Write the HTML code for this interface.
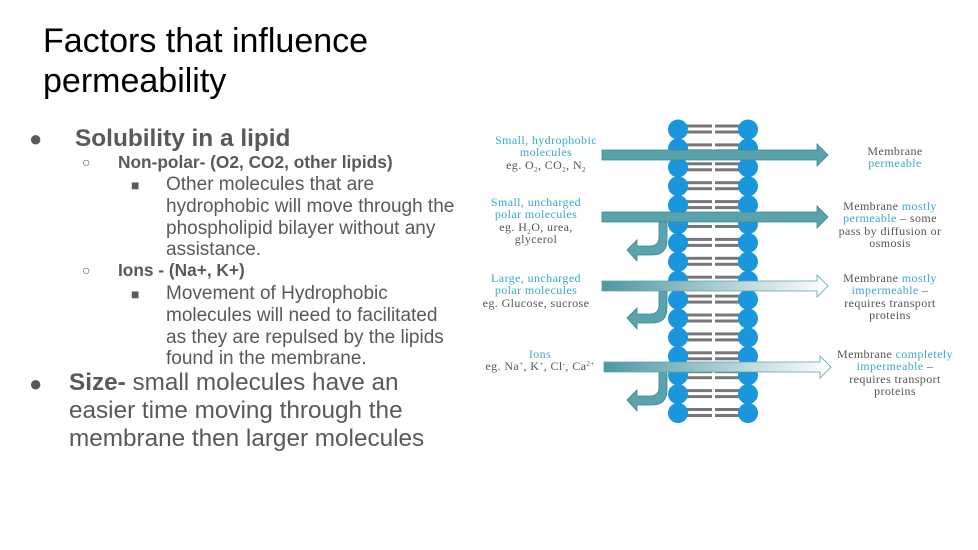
<!DOCTYPE html>
<html><head><meta charset="utf-8"><style>
body{margin:0;width:978px;height:550px;background:#fff;position:relative;overflow:hidden;font-family:"Liberation Sans",sans-serif;color:#595959}
.t{position:absolute;white-space:nowrap;line-height:1}
.d{position:absolute;text-align:center;font-family:'Liberation Serif',serif;font-size:12px;line-height:12.3px;letter-spacing:0.4px;color:#555;white-space:nowrap}
.b{color:#3aa8cc}
.s{font-size:7px;position:relative;top:3px;line-height:0}
.u{font-size:7px;position:relative;top:-4px;line-height:0}
</style></head><body>
<div class="t" style="left:43px;top:24px;font-size:34px;color:#000">Factors that influence</div>
<div class="t" style="left:43px;top:64px;font-size:34px;color:#000">permeability</div>

<div class="t" style="left:29px;top:128px;font-size:22px">●</div>
<div class="t" style="left:75px;top:127px;font-size:24.4px;font-weight:bold">Solubility in a lipid</div>
<div class="t" style="left:82px;top:155px;font-size:14px">○</div>
<div class="t" style="left:118px;top:154px;font-size:17.3px;font-weight:bold">Non-polar- (O2, CO2, other lipids)</div>
<div class="t" style="left:131px;top:178px;font-size:14px">■</div>
<div class="t" style="left:166px;top:175px;font-size:19px">Other molecules that are</div>
<div class="t" style="left:166px;top:197px;font-size:19px">hydrophobic will move through the</div>
<div class="t" style="left:166px;top:219px;font-size:19px">phospholipid bilayer without any</div>
<div class="t" style="left:166px;top:240px;font-size:19px">assistance.</div>
<div class="t" style="left:82px;top:263px;font-size:14px">○</div>
<div class="t" style="left:118px;top:262px;font-size:17.3px;font-weight:bold">Ions - (Na+, K+)</div>
<div class="t" style="left:131px;top:287px;font-size:14px">■</div>
<div class="t" style="left:166px;top:284px;font-size:19px">Movement of Hydrophobic</div>
<div class="t" style="left:166px;top:306px;font-size:19px">molecules will need to facilitated</div>
<div class="t" style="left:166px;top:328px;font-size:19px">as they are repulsed by the lipids</div>
<div class="t" style="left:166px;top:349px;font-size:19px">found in the membrane.</div>
<div class="t" style="left:29px;top:373px;font-size:22px">●</div>
<div class="t" style="left:69px;top:371px;font-size:24.3px"><b>Size-</b> small molecules have an</div>
<div class="t" style="left:69px;top:399px;font-size:24.3px">easier time moving through the</div>
<div class="t" style="left:69px;top:427px;font-size:24.3px">membrane then larger molecules</div>

<svg style="position:absolute;left:0;top:0" width="978" height="550">
<defs>
<linearGradient id="g" x1="0" x2="1"><stop offset="0" stop-color="#4f97a1"/><stop offset="1" stop-color="#ffffff"/></linearGradient>
<g id="row">
<rect x="686" y="-5" width="26" height="3" fill="#777"/><rect x="686" y="1" width="26" height="3" fill="#777"/>
<rect x="715" y="-5" width="25" height="3" fill="#777"/><rect x="715" y="1" width="25" height="3" fill="#777"/>
<circle cx="678" cy="0" r="10" fill="#1a96dc"/><circle cx="748" cy="0" r="10" fill="#1a96dc"/>
</g>
</defs>
<g>
<use href="#row" y="129.5"/><use href="#row" y="148.4"/><use href="#row" y="167.3"/><use href="#row" y="186.2"/>
<use href="#row" y="205.1"/><use href="#row" y="224"/><use href="#row" y="242.9"/><use href="#row" y="261.8"/>
<use href="#row" y="280.7"/><use href="#row" y="299.6"/><use href="#row" y="318.5"/><use href="#row" y="337.4"/>
<use href="#row" y="356.3"/><use href="#row" y="375.2"/><use href="#row" y="394.1"/><use href="#row" y="413"/>
</g>
<g fill="#5aa3ad" stroke="#3d8690" stroke-width="0.8">
<path d="M602 150H817V144L828 155L817 166V160H602Z"/>
<path d="M602 212H817V206L828 217L817 228V222H602Z"/>
<path d="M659 222H667V240Q667 255 652 255H637V261L627 250L637 240V246H650Q659 246 659 237Z"/>
<path d="M659 291H667V308Q667 323 652 323H637V329L627 318L637 308V314H650Q659 314 659 305Z"/>
<path d="M659 372H667V390Q667 405 652 405H637V411L627 400L637 390V396H650Q659 396 659 387Z"/>
</g>
<path d="M602 281H817V275L828 286L817 297V291H602Z" fill="url(#g)" stroke="#5aa3ad" stroke-width="0.8"/>
<path d="M604 362H820V356L831 367L820 378V372H604Z" fill="url(#g)" stroke="#5aa3ad" stroke-width="0.8"/>
</svg>

<div class="d" style="left:476px;top:134px;width:140px"><span class="b">Small, hydrophobic<br>molecules</span><br>eg. O<span class="s">2</span>, CO<span class="s">2</span>, N<span class="s">2</span></div>
<div class="d" style="left:466px;top:196px;width:140px"><span class="b">Small, uncharged<br>polar molecules</span><br>eg. H<span class="s">2</span>O, urea,<br>glycerol</div>
<div class="d" style="left:466px;top:272px;width:140px"><span class="b">Large, uncharged<br>polar molecules</span><br>eg. Glucose, sucrose</div>
<div class="d" style="left:470px;top:348px;width:140px"><span class="b">Ions</span><br>eg. Na<span class="u">+</span>, K<span class="u">+</span>, Cl<span class="u">-</span>, Ca<span class="u">2+</span></div>

<div class="d" style="left:820px;top:145px;width:150px">Membrane<br><span class="b">permeable</span></div>
<div class="d" style="left:815px;top:200px;width:150px">Membrane <span class="b">mostly<br>permeable</span> – some<br>pass by diffusion or<br>osmosis</div>
<div class="d" style="left:815px;top:272px;width:150px">Membrane <span class="b">mostly<br>impermeable</span> –<br>requires transport<br>proteins</div>
<div class="d" style="left:820px;top:348px;width:150px">Membrane <span class="b">completely<br>impermeable</span> –<br>requires transport<br>proteins</div>
</body></html>
